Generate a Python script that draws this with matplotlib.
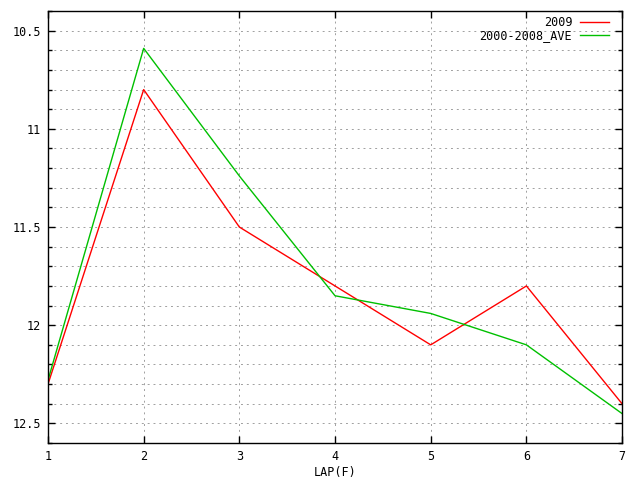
import numpy as np
import matplotlib
matplotlib.use("Agg")
import matplotlib.pyplot as plt
from matplotlib.ticker import MultipleLocator

laps = [1, 2, 3, 4, 5, 6, 7]
y2009 = [12.30, 10.80, 11.50, 11.80, 12.10, 11.80, 12.40]
y_ave = [12.28, 10.59, 11.24, 11.85, 11.94, 12.10, 12.45]
xlabel = "LAP(F)"

plt.rcParams['font.family'] = ['DejaVu Sans Mono']
plt.rcParams['font.size'] = 8.5

fig = plt.figure(figsize=(6.4, 4.8), dpi=100)
ax = fig.add_axes([0.075, 0.077, 0.897, 0.9])

ax.plot(laps, y2009, color='#ff0000', lw=1, label='2009')
ax.plot(laps, y_ave, color='#00c000', lw=1, label='2000-2008_AVE')

ax.set_xlim(1, 7)
ax.set_ylim(12.6, 10.4)
ax.xaxis.set_major_locator(MultipleLocator(1))
ax.yaxis.set_major_locator(MultipleLocator(0.5))
ax.yaxis.set_minor_locator(MultipleLocator(0.1))
ax.yaxis.set_major_formatter(plt.FuncFormatter(lambda v, p: f"{v:g}"))

ax.grid(True, which='major', color='#a0a0a0', ls=(0, (2, 4)), lw=0.7)
ax.grid(True, which='minor', axis='y', color='#a0a0a0', ls=(0, (2, 4)), lw=0.7)
ax.set_axisbelow(True)

ax.tick_params(which='both', direction='in', top=True, right=True, width=1, pad=5)
ax.tick_params(which='major', length=5)
ax.tick_params(which='minor', length=3)
for s in ax.spines.values():
    s.set_linewidth(1)

ax.set_xlabel(xlabel, labelpad=2)

ax.legend(loc='upper right', frameon=False, markerfirst=False,
          handlelength=2.4, handletextpad=0.7, borderaxespad=0.1,
          borderpad=0.3, labelspacing=0.0, bbox_to_anchor=(0.985, 1.0))

fig.savefig('out.png', dpi=100)
